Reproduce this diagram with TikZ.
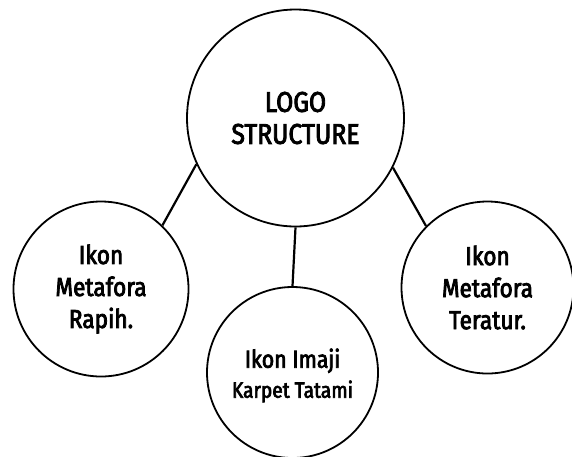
\documentclass[tikz,border=0pt]{standalone}
\usepackage{fontspec}
\newfontfamily\labelfont[FakeBold=3,FakeStretch=0.87]{Fira Sans}
\begin{document}
\begin{tikzpicture}[x=1pt,y=-1pt,
  bubble/.style={circle,draw=black,line width=1.8pt,fill=white,inner sep=0pt,align=center,text=black},
  link/.style={draw=black,line width=2.2pt}]
\useasboundingbox (0,0) rectangle (572,456);
% central topic and three branches
\node[bubble,minimum size=217pt,font=\labelfont\fontsize{28.5}{32}\selectfont] (logo) at (295.5,118)
  {LOGO\\STRUCTURE};
\node[bubble,minimum size=175pt,font=\labelfont\fontsize{26}{32}\selectfont] (rapih) at (101,289)
  {Ikon\\Metafora\\Rapih.};
\node[bubble,minimum size=171pt] (tatami) at (292.5,372.5) {};
\node[font=\labelfont\fontsize{24.5}{25}\selectfont,align=center,inner sep=0pt] (tatamilabel) at (292.5,375.5)
  {Ikon Imaji\\[5pt]\fontsize{22}{27}\selectfont Karpet Tatami};
\node[bubble,minimum size=172pt,font=\labelfont\fontsize{26}{32}\selectfont] (teratur) at (487.5,287.5)
  {Ikon\\Metafora\\Teratur.};
% connectors
\draw[link] (logo.205.7) -- (rapih.46.8);
\draw[link] (logo.south) -- (tatami.north);
\draw[link] (logo.333) -- (teratur.135);
\end{tikzpicture}
\end{document}
